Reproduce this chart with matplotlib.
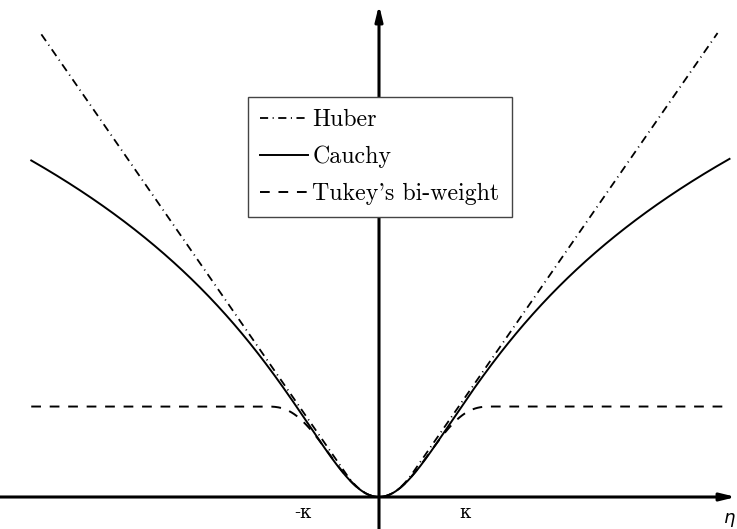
import numpy as np
import matplotlib
matplotlib.use("Agg")
import matplotlib.pyplot as plt

# loss function parameters (x measured in units of kappa)
HUBER_K = 0.37
CAUCHY_C = 0.76
TUKEY_C = 1.23
CURVATURE = 3.9

# plotted ranges of each curve
huber_range = (-3.67, 3.68)
cauchy_range = (-3.78, 3.81)
tukey_range = (-3.78, 3.78)

labels = ["Huber", "Cauchy", "Tukey's bi-weight"]
tick_pos = [-0.83, 0.935]
tick_labels = ["-\u03ba", "\u03ba"]


def huber(r, k):
    a = np.abs(r)
    return np.where(a <= k, r ** 2 / 2, k * (a - k / 2))


def cauchy(r, c):
    return c ** 2 / 2 * np.log(1 + (r / c) ** 2)


def tukey(r, c):
    a = np.minimum(np.abs(r), c)
    return c ** 2 / 6 * (1 - (1 - (a / c) ** 2) ** 3)


fig = plt.figure(figsize=(7.37, 5.29), dpi=100)
ax = fig.add_axes([0, 0, 1, 1])
ax.set_xlim(-379 / 92, 358 / 92)
ax.set_ylim(-32 / 92, 497 / 92)
ax.axis("off")

# coordinate axes with arrow heads
arrow = dict(arrowstyle="-|>,head_length=0.9,head_width=0.22", color="black", lw=2.2,
             shrinkA=0, shrinkB=0)
ax.annotate("", xy=(357 / 92, 0), xytext=(-379 / 92, 0), arrowprops=arrow)
ax.annotate("", xy=(0, 492 / 92), xytext=(0, -32 / 92), arrowprops=arrow)

r = np.linspace(*huber_range, 800)
h_line, = ax.plot(r, CURVATURE * huber(r, HUBER_K), color="black", lw=1.3,
                  linestyle=(0, (4.5, 2.5, 0.6, 2.5)))
r = np.linspace(*cauchy_range, 800)
c_line, = ax.plot(r, CURVATURE * cauchy(r, CAUCHY_C), color="black", lw=1.4)
r = np.linspace(*tukey_range, 800)
t_line, = ax.plot(r, CURVATURE * tukey(r, TUKEY_C), color="black", lw=1.4,
                  linestyle=(0, (5, 4.5)))

for x, s in zip(tick_pos, tick_labels):
    ax.text(x, -0.175, s, ha="center", va="center", fontsize=13,
            family="DejaVu Serif")
ax.text(350 / 92, -0.25, r"$\eta$", ha="center", va="center", fontsize=13)

leg = ax.legend([h_line, c_line, t_line], labels, loc="upper left",
                bbox_to_anchor=(248 / 737, 1 - 97 / 529), fancybox=False,
                edgecolor="#444444", framealpha=1, handlelength=2.0,
                handletextpad=0.2, labelspacing=0.62, borderpad=0.5,
                borderaxespad=0,
                prop={"family": ["cmr10", "DejaVu Serif"], "size": 17.2})
leg.get_frame().set_linewidth(1.0)

fig.savefig("out.png", dpi=100)
